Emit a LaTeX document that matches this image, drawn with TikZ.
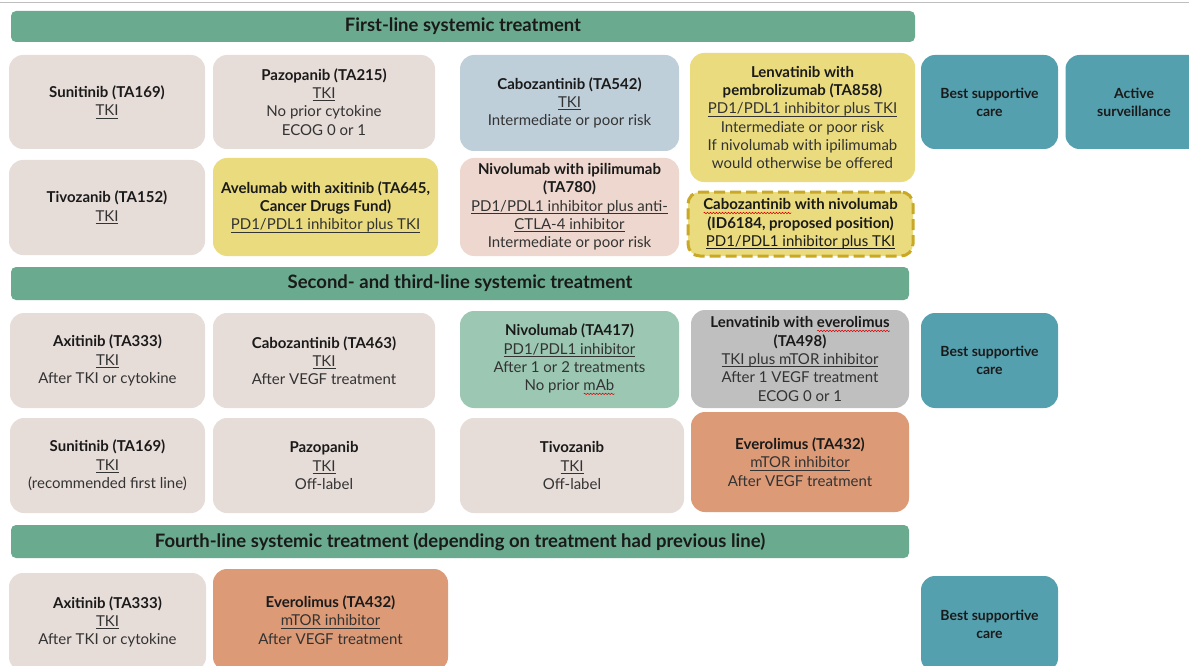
\documentclass[tikz,border=0pt]{standalone}
\usepackage{fontspec}
\setmainfont{Lato}
\usetikzlibrary{decorations.pathmorphing}
\definecolor{hdr}{HTML}{6AAB8F}
\definecolor{beige}{HTML}{E6DCD8}
\definecolor{bluegray}{HTML}{BFCFDA}
\definecolor{yel}{HTML}{EADB7E}
\definecolor{pinkb}{HTML}{EED7CE}
\definecolor{tealb}{HTML}{55A0AF}
\definecolor{mint}{HTML}{9CC8B3}
\definecolor{grayb}{HTML}{BFBFBF}
\definecolor{orangeb}{HTML}{DC9A77}
\definecolor{dashy}{HTML}{C9A825}
\definecolor{txt}{HTML}{333333}
\definecolor{ttl}{HTML}{1A1A1A}
\newdimen\sqw
\newcommand\tb[1]{{\bfseries\color{ttl}#1}}
\newcommand\tu[1]{\setbox0\hbox{#1}\rlap{\rule[-2.5pt]{\wd0}{0.7pt}}\box0\relax}
\newcommand\sq[1]{\setbox0\hbox{#1}\sqw=\wd0\relax\rlap{\tikz[x=1pt,y=1pt,baseline=0pt,sharp corners]{\draw[red!85!black, line width=0.5pt, solid, decorate, decoration={snake, amplitude=0.7pt, segment length=3pt}] (0,-3) -- (\sqw,-3);}}\box0\relax}
\begin{document}
\begin{tikzpicture}[x=1pt,y=1pt,
  box/.style={rectangle, rounded corners=14pt, inner sep=0pt, align=center, text=txt,
    font=\fontsize{15}{18.3}\selectfont},
  hbar/.style={rectangle, rounded corners=5pt, fill=hdr, inner sep=0pt, text=ttl,
    font=\bfseries\fontsize{18.5}{20}\selectfont},
  bsc/.style={box, fill=tealb, text=ttl, font=\bfseries\fontsize{14}{18}\selectfont,
    minimum width=137pt},
  sz/.style 2 args={minimum width=#1pt, minimum height=#2pt}]
\useasboundingbox (0,0) rectangle (1189,-666);
\clip (0,0) rectangle (1189,-666);
\draw[black!25, line width=1pt] (0,-2.5) -- (1189,-2.5);
% headers
\node[hbar, sz={904}{31}] (h1) at (463,-26.5) {First-line systemic treatment};
\node[hbar, sz={898}{33}] (h2) at (460,-283.5) {Second- and third-line systemic treatment};
\node[hbar, sz={898}{33}] (h3) at (460,-541.5) {Fourth-line systemic treatment (depending on treatment had previous line)};
% row 1
\node[box, fill=beige, sz={196}{94}] (sun1) at (107,-102) {\tb{Sunitinib (TA169)}\\\tu{TKI}};
\node[box, fill=beige, sz={222}{94}] (paz1) at (324,-102) {\tb{Pazopanib (TA215)}\\\tu{TKI}\\No prior cytokine\\ECOG 0 or 1};
\node[box, fill=bluegray, sz={219}{96}] (cabo1) at (569.5,-103) {\tb{Cabozantinib (TA542)}\\\tu{TKI}\\Intermediate or poor risk};
\node[box, fill=yel, sz={225}{129}] (lenv1) at (802.5,-117.5) {\tb{Lenvatinib with}\\\tb{pembrolizumab (TA858)}\\\tu{PD1/PDL1 inhibitor plus TKI}\\Intermediate or poor risk\\If nivolumab with ipilimumab\\would otherwise be offered};
\node[bsc, minimum height=94pt] (bsc1) at (989.5,-102) {Best supportive\\care};
\node[bsc, minimum height=94pt] (as) at (1134,-102) {Active\\surveillance};
% row 2
\node[box, fill=beige, sz={196}{95}] (tivo1) at (107,-207.5) {\tb{Tivozanib (TA152)}\\\tu{TKI}};
\node[box, fill=yel, sz={225}{98}] (ave) at (325.5,-207) {\tb{Avelumab with axitinib (TA645,}\\\tb{Cancer Drugs Fund)}\\\tu{PD1/PDL1 inhibitor plus TKI}};
\node[box, fill=pinkb, sz={219}{98}] (nivipi) at (569.5,-207) {\tb{Nivolumab with ipilimumab}\\\tb{(TA780)}\\\tu{PD1/PDL1 inhibitor plus anti-}\\\tu{CTLA-4 inhibitor}\\Intermediate or poor risk};
\node[box, fill=yel, sz={225}{64}, draw=dashy, line width=3pt, dash pattern=on 11pt off 5pt, rounded corners=12pt] (cabonivo) at (800.5,-224) {\tb{\sq{Cabozantinib} with nivolumab}\\\tb{(ID6184, proposed position)}\\{\color{ttl}\tu{PD1/PDL1 inhibitor plus TKI}}};
% row 3
\node[box, fill=beige, sz={195}{95}] (axi2) at (107.5,-360.5) {\tb{Axitinib (TA333)}\\\tu{TKI}\\After TKI or cytokine};
\node[box, fill=beige, sz={222}{95}] (cabo2) at (324,-360.5) {\tb{Cabozantinib (TA463)}\\\tu{TKI}\\After VEGF treatment};
\node[box, fill=mint, sz={219}{97}] (nivo2) at (569.5,-359.5) {\tb{Nivolumab (TA417)}\\\tu{PD1/PDL1 inhibitor}\\After 1 or 2 treatments\\No prior \sq{mAb}};
\node[box, fill=grayb, sz={218}{98}] (lenv2) at (800,-359) {\tb{Lenvatinib with \sq{everolimus}}\\\tb{(TA498)}\\\tu{TKI plus mTOR inhibitor}\\After 1 VEGF treatment\\ECOG 0 or 1};
\node[bsc, minimum height=95pt] (bsc2) at (989.5,-360.5) {Best supportive\\care};
% row 4
\node[box, fill=beige, sz={195}{95}] (sun2) at (107.5,-465.5) {\tb{Sunitinib (TA169)}\\\tu{TKI}\\(recommended first line)};
\node[box, fill=beige, sz={222}{95}] (paz2) at (324,-465.5) {\tb{Pazopanib}\\\tu{TKI}\\Off-label};
\node[box, fill=beige, sz={224}{95}] (tivo2) at (572,-465.5) {\tb{Tivozanib}\\\tu{TKI}\\Off-label};
\node[box, fill=orangeb, sz={218}{100}] (evero2) at (800,-462) {\tb{Everolimus (TA432)}\\\tu{mTOR inhibitor}\\After VEGF treatment};
% row 5
\node[box, fill=beige, sz={197}{98}] (axi3) at (107.5,-622) {\tb{Axitinib (TA333)}\\\tu{TKI}\\After TKI or cytokine};
\node[box, fill=orangeb, sz={235}{102}] (evero3) at (330.5,-620) {\tb{Everolimus (TA432)}\\\tu{mTOR inhibitor}\\After VEGF treatment};
\node[bsc, minimum height=96pt] (bsc3) at (989.5,-624) {Best supportive\\care};
\end{tikzpicture}
\end{document}
